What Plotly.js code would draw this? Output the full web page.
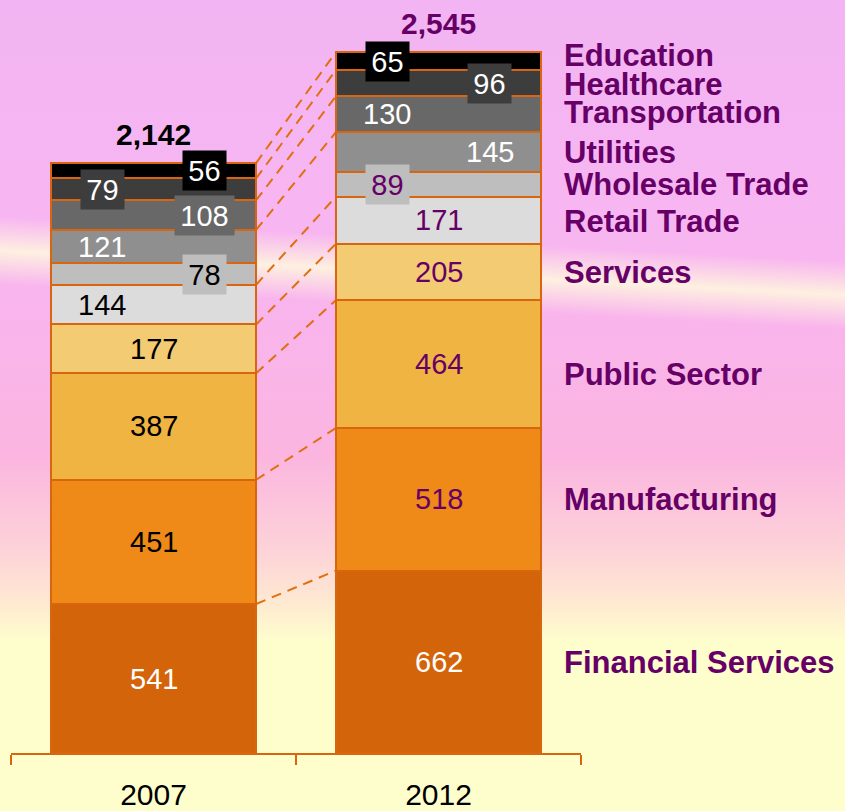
<!DOCTYPE html>
<html>
<head>
<meta charset="utf-8">
<script src="https://cdn.plot.ly/plotly-3.0.1.min.js"></script>
<style>
  html, body { margin:0; padding:0; }
  body {
    width:845px; height:811px; overflow:hidden;
    background:
      linear-gradient(183deg, rgba(255,250,225,0) 30.5%, rgba(255,250,222,0.85) 34.5%, rgba(255,250,225,0) 38.5%),
      linear-gradient(180deg, #F2B4F2 0%, #F7B6F2 25%, #F9B4EC 40%, #FBB5E0 56%, #FDD3D8 68%, #FEE8D2 74%, #FEFDCC 79%, #FEFECC 100%);
  }
  #chart { width:845px; height:811px; }
</style>
</head>
<body>
<div id="chart"></div>
<script>
// ---- data ----
const years = ['2007', '2012'];
const sectors = ['Financial Services', 'Manufacturing', 'Public Sector', 'Services', 'Retail Trade',
                 'Wholesale Trade', 'Utilities', 'Transportation', 'Healthcare', 'Education'];
const values2007 = [541, 451, 387, 177, 144, 78, 121, 108, 79, 56];
const values2012 = [662, 518, 464, 205, 171, 89, 145, 130, 96, 65];
const totals = [2142, 2545];

// ---- styles ----
const colors = ['#D4640A', '#EF8A18', '#F0B443', '#F3CB72', '#DCDCDC',
                '#BEBEBE', '#8F8F8F', '#686868', '#3D3D3D', '#000000'];
const purple = '#660066';
const edge = '#D9660E';
const labelPos = [
  ['c','c','c','c','l','r','l','r','l','r'],
  ['c','c','c','c','c','l','r','l','r','l']
];
const boxed = [
  [false,false,false,false,false,true,false,true,true,true],
  [false,false,false,false,false,true,false,false,true,true]
];
const fontColors = [
  ['white','black','black','black','black','black','white','white','white','white'],
  ['white',purple,purple,purple,purple,purple,'white','white','white','white']
];
const connect = [true,true,true,true,true,false,true,true,true,true];
const sectorLabelShift = [-1,0,-10,-1,-1,0,0,2,-1,6];
const totalColors = ['black', purple];
const barWidth = 0.72;
const offs = {l:-0.179, c:0, r:0.179};
const FONT = 'Liberation Sans, Arial, sans-serif';

const series = [values2007, values2012];

const traces = sectors.map((s, i) => ({
  type:'bar', name:s, x:years, y:[values2007[i], values2012[i]],
  width: barWidth,
  marker:{color:colors[i], line:{color:edge, width:2}},
  hoverinfo:'name+y'
}));

function cum(arr){ const out=[]; let s=0; arr.forEach(v=>{ s+=v; out.push(s); }); return out; }
const cums = series.map(cum);

const annotations = [];
series.forEach((vals, yi) => {
  vals.forEach((v, i) => {
    const mid = cums[yi][i] - v/2;
    const a = {
      xref:'x', yref:'y', x: yi + offs[labelPos[yi][i]], y: mid,
      text: String(v), showarrow:false,
      font:{family:FONT, size:29, color:fontColors[yi][i]},
      xanchor:'center', yanchor:'middle'
    };
    if (boxed[yi][i]) {
      a.bgcolor = colors[i];
      a.width = String(v).length * 16 + 9;
      a.height = 37;
      a.borderpad = 1;
    }
    annotations.push(a);
  });
  annotations.push({
    xref:'x', yref:'y', x: yi, y: totals[yi],
    text: '<b>' + totals[yi].toLocaleString('en-US') + '</b>', showarrow:false,
    font:{family:FONT, size:30, color:totalColors[yi]},
    xanchor:'center', yanchor:'bottom', yshift:10
  });
});

sectors.forEach((s, i) => {
  annotations.push({
    xref:'paper', yref:'y', x: 0.967, y: cums[1][i] - values2012[i]/2,
    text:'<b>' + s + '</b>', showarrow:false,
    font:{family:FONT, size:31, color:purple},
    xanchor:'left', yanchor:'middle', yshift: sectorLabelShift[i]
  });
});

const shapes = [];
sectors.forEach((s, i) => {
  if (!connect[i]) return;
  shapes.push({
    type:'line', xref:'x', yref:'y',
    x0: 0 + barWidth/2, y0: cums[0][i],
    x1: 1 - barWidth/2, y1: cums[1][i],
    line:{color:'#E0700F', width:2, dash:'10px,7px'},
    layer:'below'
  });
});

const layout = {
  width:845, height:811,
  margin:{l:11, r:264, t:0, b:58},
  paper_bgcolor:'rgba(0,0,0,0)', plot_bgcolor:'rgba(0,0,0,0)',
  barmode:'stack', showlegend:false,
  xaxis:{
    type:'category', range:[-0.5, 1.5], tickson:'boundaries',
    ticks:'outside', ticklen:10, tickwidth:2, tickcolor:edge,
    showline:true, linecolor:edge, linewidth:2, showgrid:false, zeroline:false,
    ticklabelstandoff:14,
    tickfont:{family:FONT, size:30, color:'black'}, fixedrange:true
  },
  yaxis:{ range:[0, 2734], visible:false, showgrid:false, zeroline:false, fixedrange:true },
  annotations: annotations,
  shapes: shapes
};

Plotly.newPlot('chart', traces, layout, {displayModeBar:false, staticPlot:true});
</script>
</body>
</html>
